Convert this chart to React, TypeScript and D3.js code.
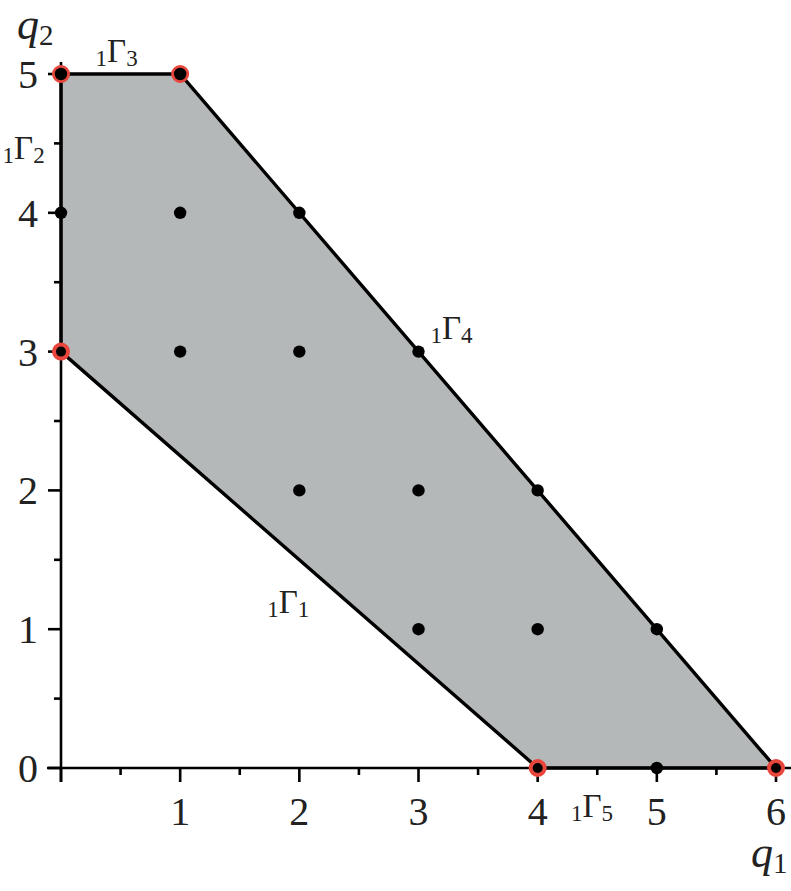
import React from "react";
import * as d3 from "d3";

const W = 791;
const H = 891;

// Polygon vertices (Newton polygon region)
const polygonQ1 = [0, 0, 1, 6, 4];
const polygonQ2 = [3, 5, 5, 0, 0];

// Lattice points inside / on the region
const pointQ1 = [0, 1, 0, 1, 2, 1, 2, 3, 2, 3, 4, 3, 4, 5, 5];
const pointQ2 = [4, 4, 5, 5, 4, 3, 3, 3, 2, 2, 2, 1, 1, 1, 0];

// Highlighted vertices (red rings)
const vertexQ1 = [0, 1, 0, 4, 6];
const vertexQ2 = [5, 5, 3, 0, 0];

// Tick labels
const xTickLabels = [1, 2, 3, 4, 5, 6];
const yTickLabels = [0, 1, 2, 3, 4, 5];

// Edge labels (index, anchor in data coords)
const edgeIndex = ["3", "2", "4", "1", "5"];
const edgeQ1 = [0.29, -0.49, 3.1, 1.73, 4.28];
const edgeQ2 = [5.09, 4.39, 3.09, 1.12, -0.35];

const serif = "'Liberation Serif', 'Times New Roman', serif";

export default function App() {
  const x = d3.scaleLinear().domain([0, 6]).range([61, 776]);
  const y = d3.scaleLinear().domain([0, 5]).range([768, 74]);

  const poly = polygonQ1.map((q, i) => [x(q), y(polygonQ2[i])] as [number, number]);
  const path = d3.line()(poly.concat([poly[0]])) || "";

  const halfTicksX = d3.range(0, 6.01, 0.5);
  const halfTicksY = d3.range(0, 5.01, 0.5);

  return (
    <svg width={W} height={H} style={{ position: "absolute", left: 0, top: 0, background: "#fff" }}>
      <path d={path} fill="#b5b8b9" stroke="none" />
      {/* axes */}
      <line x1={47} x2={791} y1={y(0)} y2={y(0)} stroke="#000" strokeWidth={2.6} />
      <line x1={x(0)} x2={x(0)} y1={62} y2={782} stroke="#000" strokeWidth={2.6} />
      {halfTicksX.map((t, i) => (
        <line key={"xt" + i} x1={x(t)} x2={x(t)} y1={y(0)} y2={y(0) + (i % 2 === 0 ? 14 : 7)} stroke="#000" strokeWidth={2.6} />
      ))}
      {halfTicksY.map((t, i) => (
        <line key={"yt" + i} x1={x(0) - (i % 2 === 0 ? 13 : 7)} x2={x(0)} y1={y(t)} y2={y(t)} stroke="#000" strokeWidth={2.6} />
      ))}
      <path d={path} fill="none" stroke="#000" strokeWidth={3.4} strokeLinejoin="miter" />
      {xTickLabels.map((t) => (
        <text key={"xl" + t} x={x(t)} y={825} textAnchor="middle" fontFamily={serif} fontSize={40} fill="#222">
          {t}
        </text>
      ))}
      {yTickLabels.map((t) => (
        <text key={"yl" + t} x={38} y={y(t) + 14} textAnchor="end" fontFamily={serif} fontSize={40} fill="#222">
          {t}
        </text>
      ))}
      {vertexQ1.map((q, i) => (
        <circle key={"v" + i} cx={x(q)} cy={y(vertexQ2[i])} r={7} fill="#000" stroke="#e8463c" strokeWidth={4} />
      ))}
      {pointQ1.map((q, i) => (
        <circle key={"p" + i} cx={x(q)} cy={y(pointQ2[i])} r={6.2} fill="#000" />
      ))}
      {edgeIndex.map((n, i) => (
        <text key={"g" + n} x={x(edgeQ1[i])} y={y(edgeQ2[i])} fontFamily={serif} fill="#222">
          <tspan fontSize={23} dy={4}>1</tspan>
          <tspan fontSize={33} dy={-4}>Γ</tspan>
          <tspan fontSize={23} dy={4}>{n}</tspan>
        </text>
      ))}
      <text x={17} y={39} fontFamily={serif} fill="#222">
        <tspan fontSize={44} fontStyle="italic">q</tspan>
        <tspan fontSize={29} dy={6}>2</tspan>
      </text>
      <text x={751} y={867} fontFamily={serif} fill="#222">
        <tspan fontSize={44} fontStyle="italic">q</tspan>
        <tspan fontSize={29} dy={6}>1</tspan>
      </text>
    </svg>
  );
}
